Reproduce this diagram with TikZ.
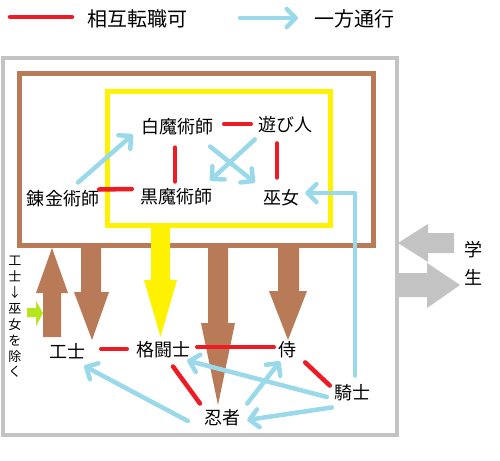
\documentclass[tikz,border=0pt]{standalone}
\usepackage{fontspec}
\newfontfamily\jp{Noto Sans CJK JP}
\usetikzlibrary{arrows.meta,calc}
\definecolor{redc}{HTML}{ED1C24}
\definecolor{bluec}{HTML}{99D9EA}
\definecolor{brownc}{HTML}{B97A57}
\definecolor{yellowc}{HTML}{FFF200}
\definecolor{grayc}{HTML}{C3C3C3}
\definecolor{greenc}{HTML}{B5E61D}
\begin{document}
\begin{tikzpicture}[x=1pt,y=-1pt,
  lbl/.style={font=\jp\fontsize{18}{18}\selectfont, inner sep=0pt},
  leg/.style={font=\jp\fontsize{20}{20}\selectfont, inner sep=0pt},
  vert/.style={font=\jp\fontsize{13}{15.9}\selectfont, inner sep=0pt, align=center},
  mutual/.style={draw=redc, line width=4.5pt, line cap=round},
  oneway/.style={draw=bluec, line width=4.5pt, line cap=round, line join=round,
    -{Straight Barb[length=9pt,width=18pt,round]}},
  frame/.style={line width=#1},
  blockb/.style={fill=brownc},
  blocky/.style={fill=yellowc},
  blockg/.style={fill=grayc},
  blockgr/.style={fill=greenc}]
\fill[white] (0,0) rectangle (500,460);
\useasboundingbox (0,0) rectangle (500,460);

% legend
\coordinate (legr1) at (10,17);
\coordinate (legr2) at (72,17);
\coordinate (legb1) at (240,18);
\coordinate (legb2) at (298,18);
\draw[mutual] (legr1) -- (legr2);
\draw[oneway] (legb1) -- (legb2);
\node[leg] (legt1) at (137.5,19) {相互転職可};
\node[leg] (legt2) at (354,19) {一方通行};

% frames
\draw[grayc, frame=4pt] (2.5,58) rectangle (397,435);
\draw[brownc, frame=5pt] (19.5,73) rectangle (373,245.5);
\draw[yellowc, frame=5pt] (107.5,91.5) rectangle (330,225);

% block arrows
\fill[blockb] (43,337) -- (43,293) -- (36,293) -- (52,248) -- (68,293) -- (61,293) -- (61,337) -- cycle;
\fill[blockb] (81,247) -- (81,292) -- (74,292) -- (92,340) -- (109,292) -- (101,292) -- (101,247) -- cycle;
\fill[blocky] (151,225) -- (151,280) -- (144,280) -- (160.5,337) -- (177,280) -- (170,280) -- (170,225) -- cycle;
\fill[blockb] (208,247) -- (208,323) -- (201,323) -- (218,405) -- (235,323) -- (228,323) -- (228,247) -- cycle;
\fill[blockb] (278,247) -- (278,291) -- (269,291) -- (288,340) -- (307,291) -- (299,291) -- (299,247) -- cycle;
\fill[blockgr] (27,308) -- (36,308) -- (36,301) -- (43,313) -- (36,326) -- (36,317) -- (27,317) -- cycle;
\fill[blockg] (454,233) -- (428,233) -- (428,224) -- (398,243) -- (428,262) -- (428,253) -- (454,253) -- cycle;
\fill[blockg] (396,273) -- (427,273) -- (427,263) -- (460,285) -- (427,308) -- (427,297) -- (396,297) -- cycle;

% nodes
\node[lbl] (shiro) at (177,127) {白魔術師};
\node[lbl] (asobi) at (285,125) {遊び人};
\node[lbl] (kuro)  at (176,197) {黒魔術師};
\node[lbl] (miko)  at (281,198) {巫女};
\node[lbl] (ren)   at (63,199)  {錬金術師};
\node[lbl] (kou)   at (67,351)  {工士};
\node[lbl] (kaku)  at (163,350) {格闘士};
\node[lbl] (samu)  at (287,350) {侍};
\node[lbl] (kishi) at (352,393) {騎士};
\node[lbl] (nin)   at (222,418) {忍者};
\node[lbl] (gaku)  at (473,250) {学};
\node[lbl] (sei)   at (473,277) {生};
\node[vert] (note) at (15,317) {工\\士\\↓\\巫\\女\\を\\除\\く};

% mutual
\draw[mutual] ($(shiro.east)+(11,-3)$) -- ($(asobi.west)+(-7,-1)$);
\draw[mutual] ($(shiro.south)+(-2,12)$) -- ($(kuro.north)+(-1,-7)$);
\draw[mutual] ($(asobi.south)+(-8,10)$) -- ($(miko.north)+(-4,-12)$);
\draw[mutual] ($(ren.north east)+(0,-1)$) -- ($(kuro.west)+(-8,-8)$);
\draw[mutual] ($(kou.east)+(16,-2)$) -- ($(kaku.west)+(-9,-1)$);
\draw[mutual] ($(kaku.east)+(7,-3)$) -- ($(samu.west)+(-4,-3)$);
\draw[mutual] ($(kaku.south)+(10,8)$) -- ($(nin.north)+(-22,-6)$);
\draw[mutual] ($(samu.south east)+(9,4)$) -- ($(kishi.north west)+(-4,1)$);

% one way
\draw[oneway] ($(ren.north)+(15,-8)$) -- ($(shiro.south west)+(-8,-1)$);
\draw[oneway] ($(asobi.south west)+(-3,6)$) -- ($(kuro.north east)+(-2,-8)$);
\draw[oneway] ($(shiro.south east)+(-3,11)$) -- ($(miko.north west)+(-8,-7)$);
\draw[oneway] ($(kishi.north)+(3,-9)$) |- ($(miko.east)+(6,-5)$);
\draw[oneway] ($(nin.west)+(-16,3)$) -- ($(kou.south east)+(-1,7)$);
\draw[oneway] ($(kishi.west)+(-7,4)$) -- ($(kaku.south east)+(-3,2)$);
\draw[oneway] ($(nin.north east)+(7,-6)$) -- ($(samu.south)+(-7,3)$);
\draw[oneway] ($(kishi.south west)+(-2,6)$) -- ($(nin.east)+(7,2)$);
\end{tikzpicture}
\end{document}
